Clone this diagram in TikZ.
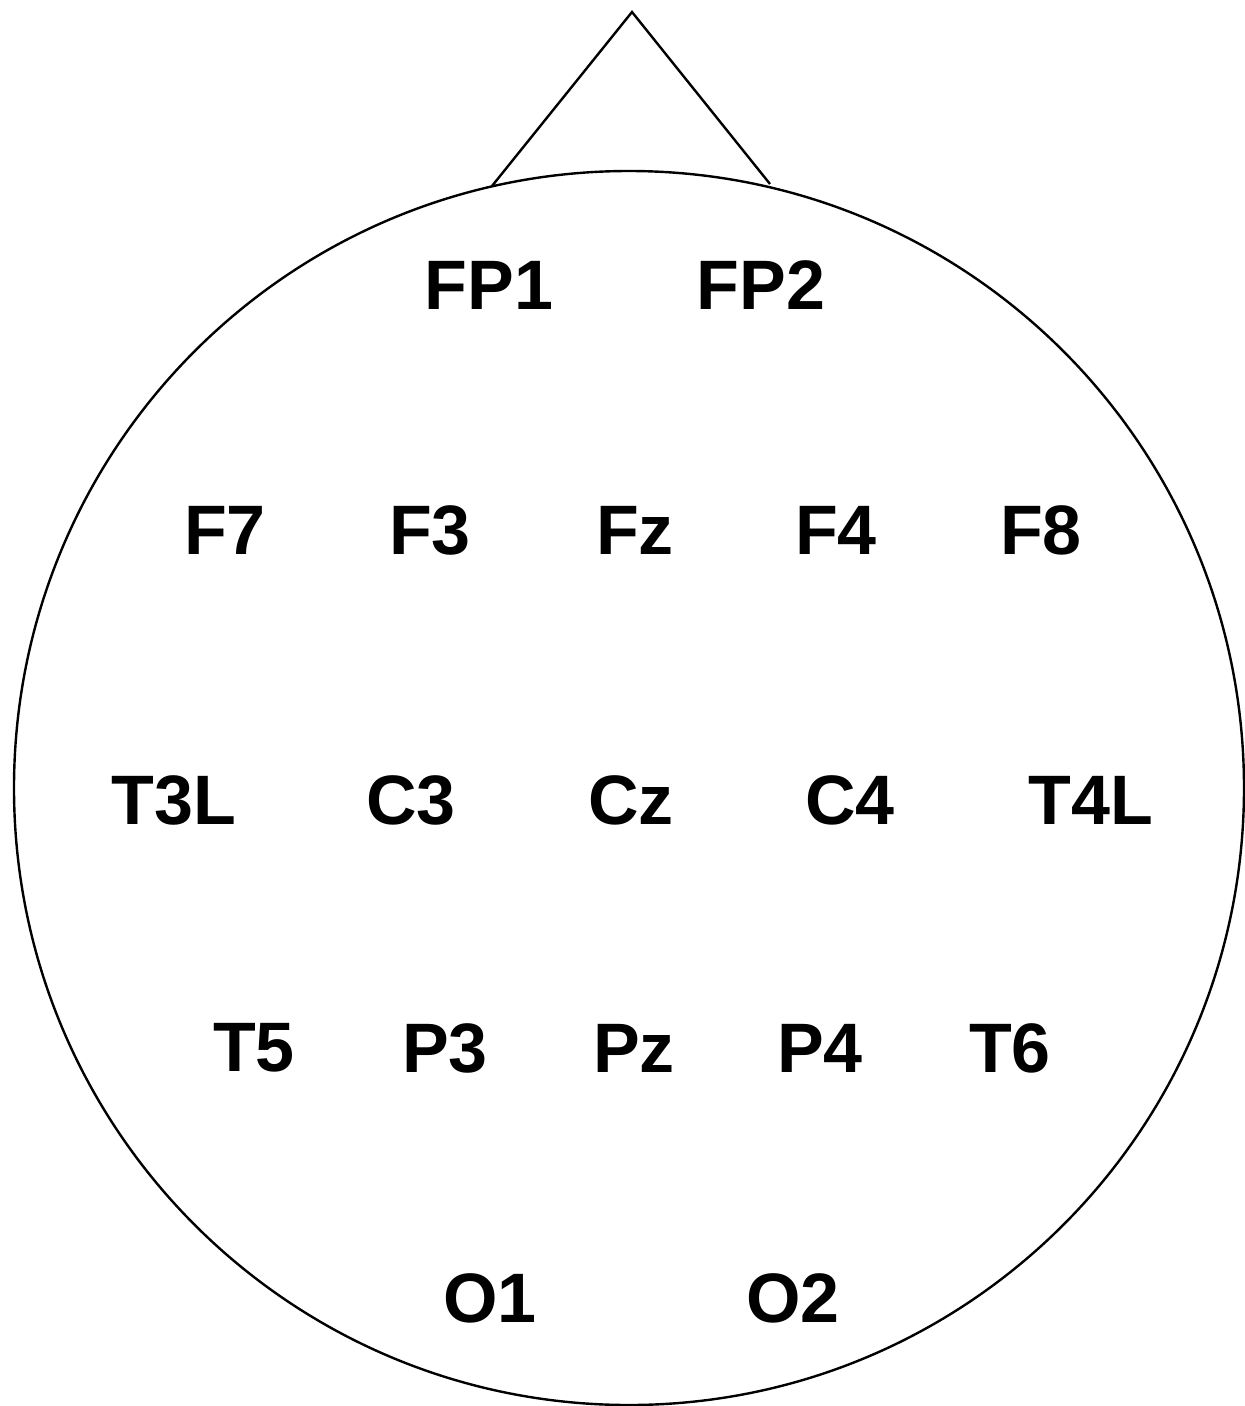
\documentclass[tikz,border=0pt]{standalone}
\usepackage{fontspec}
\setmainfont{Liberation Sans}
\begin{document}
\begin{tikzpicture}[x=1pt,y=-1pt,
  lbl/.style={font=\fontsize{70}{70}\selectfont\bfseries, inner sep=0pt, anchor=center},
  outline/.style={draw=black, line width=2.4pt}]
\useasboundingbox (0,0) rectangle (1245,1406);
\fill[white] (0,0) rectangle (1245,1406);
\coordinate (nl) at (492,186);
\coordinate (apex) at (632,12);
\coordinate (nr) at (770,184);
\draw[outline] (nl) -- (apex) -- (nr);
\draw[outline] (629,788) ellipse [x radius=615, y radius=617];
\node[lbl] (FP1) at (489,285) {FP1};
\node[lbl] (FP2) at (761,285) {FP2};
\node[lbl] (F7) at (225,530) {F7};
\node[lbl] (F3) at (430,530) {F3};
\node[lbl] (Fz) at (635,530) {Fz};
\node[lbl] (F4) at (836,530) {F4};
\node[lbl] (F8) at (1041,530) {F8};
\node[lbl] (T3L) at (174,800) {T3L};
\node[lbl] (C3) at (411,800) {C3};
\node[lbl] (Cz) at (631,800) {Cz};
\node[lbl] (C4) at (850,800) {C4};
\node[lbl] (T4L) at (1091,800) {T4L};
\node[lbl] (T5) at (254,1048) {T5};
\node[lbl] (P3) at (445,1048) {P3};
\node[lbl] (Pz) at (634,1048) {Pz};
\node[lbl] (P4) at (820,1048) {P4};
\node[lbl] (T6) at (1010,1048) {T6};
\node[lbl] (O1) at (490,1298) {O1};
\node[lbl] (O2) at (793,1298) {O2};
\end{tikzpicture}
\end{document}
